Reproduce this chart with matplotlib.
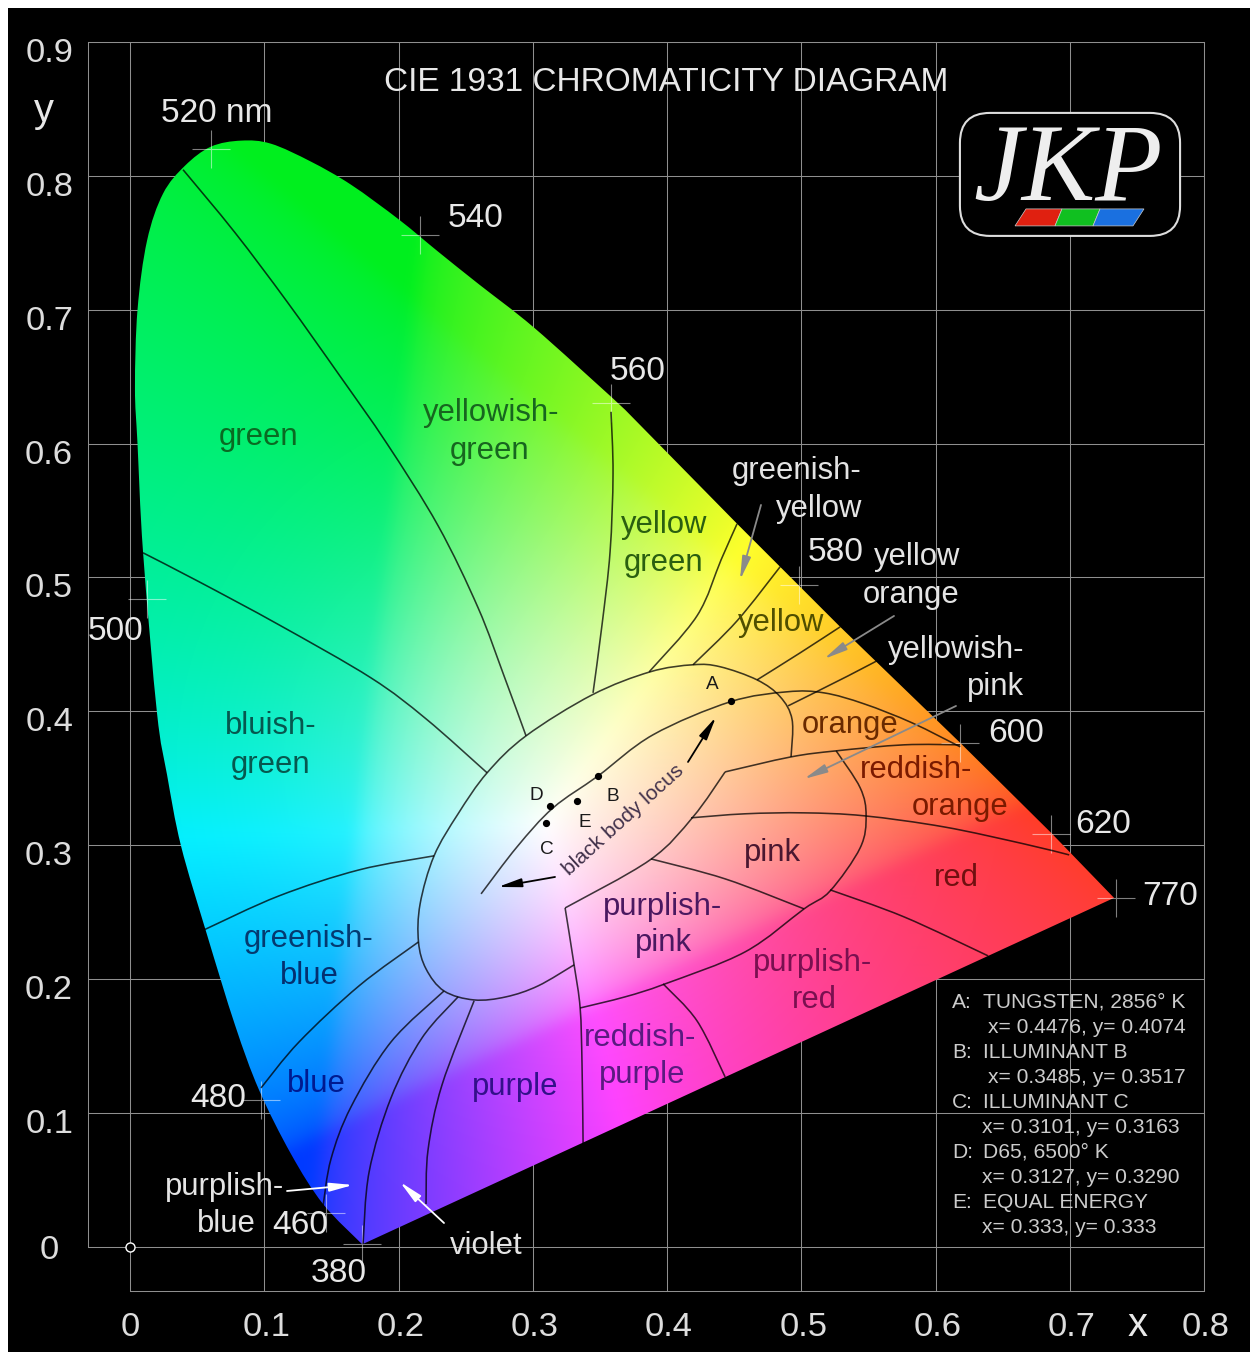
import numpy as np
import matplotlib
matplotlib.use("Agg")
import matplotlib.pyplot as plt
from matplotlib.path import Path
from matplotlib.patches import PathPatch, Rectangle, FancyBboxPatch, Polygon
from matplotlib.transforms import ScaledTranslation

plt.rcParams['font.family'] = ['Liberation Sans', 'DejaVu Sans']
W, H = 1250, 1352

# ---- data: spectral locus (CIE x, y) ----
locus_x = [.173,.1438,.1199,.0961,.0782,.0574,.0380,.0276,.0201,.0097,.0056,.0037,.0056,.0127,.0246,.0410,.0603,.0827,.1050,.1348,.1646,.2004,.2295,.2593,.3010,.3583]
locus_y = [.002,.0321,.0695,.1173,.1658,.2331,.2995,.3526,.3989,.5192,.5998,.6417,.6999,.7515,.7866,.8075,.8217,.8262,.8239,.8105,.7933,.7672,.7433,.7194,.6865,.6350]
red_edge_x = [.3688,.4522,.5290,.6184,.6861,.7330]
red_edge_y = [.6252,.5401,.4631,.3765,.3093,.2607]

wave_labels = ['520','540','560','580','600','620','770','500','480','460','380']
wave_x = [.0603,.2161,.3583,.4984,.6184,.6861,.7346,.0127,.0976,.1460,.173]
wave_y = [.8202,.7560,.6305,.4945,.3765,.3085,.2607,.4841,.1098,.0254,.002]

# illuminants from the legend
ill_names = ['A','B','C','D','E']
ill_x = [.4476,.3485,.3101,.3127,.333]
ill_y = [.4074,.3517,.3163,.3290,.333]

# region boundaries
b_green_yg = [(.0395,.8045),(.0782,.7575),(.1170,.7059),(.1557,.6514),(.1915,.5998),(.2295,.5386),(.2593,.4773),(.2786,.4265),(.2950,.3817)]
b_green_bg = [(.0097,.5184),(.0514,.4968),(.1110,.4646),(.1795,.4250),(.2205,.3944),(.2660,.3541)]
b_bg_gb = [(.0551,.2368),(.1110,.2622),(.1706,.2816),(.2265,.2921)]
b_gb_blue = [(.0976,.1188),(.1259,.1531),(.1706,.1950),(.2149,.2278)]
b_blue_pb = [(.1438,.0306),(.1497,.0657),(.1646,.1046),(.1944,.1531),(.2339,.1912)]
b_pb_violet = [(.1736,.0022),(.1781,.0560),(.1944,.1113),(.2175,.1561),(.2444,.1868)]
b_violet_purple = [(.2205,.0321),(.2220,.0725),(.2324,.1210),(.2563,.1838)]
b_purple_rp = [(.3375,.0769),(.3367,.1367),(.3353,.1785),(.3308,.2107),(.3241,.2532)]
b_inner_low = [(.3241,.2532),(.3874,.2891),(.4194,.3212),(.4433,.3548)]
b_inner_top = [(.4433,.3548),(.4924,.3660),(.5260,.3705),(.5766,.3750),(.6184,.3750)]
b_oval = [(.3308,.2107),(.3040,.1950),(.2801,.1868),(.2563,.1845),(.2339,.1912),(.2205,.2077),(.2149,.2278),(.2161,.2562),(.2265,.2921),(.2444,.3235),(.2660,.3541),(.2950,.3817),(.3442,.4123),(.3874,.4295),(.4194,.4348),(.4396,.4333),(.4671,.4235),(.4843,.4109),(.4932,.3937),(.4924,.3660)]
b_blackbody = [(.2615,.2637),(.2883,.2988),(.3151,.3279),(.3487,.3518),(.3896,.3825),(.4470,.4071),(.4895,.4146),(.5170,.4138),(.5468,.4056),(.5826,.3914),(.6184,.3735)]
b_yg_line = [(.3583,.6237),(.3598,.5774),(.3576,.5192),(.3516,.4646),(.3449,.4138)]
b_yg_gy = [(.3867,.4295),(.4224,.4714),(.4403,.5132),(.4522,.5401)]
b_gy_y = [(.4194,.4348),(.4522,.4676),(.4843,.5080)]
b_y_yo = [(.4671,.4235),(.4992,.4437),(.5290,.4631)]
b_yo_yp = [(.4902,.4041),(.5349,.4265),(.5647,.4422)]
b_pink_arc = [(.5260,.3705),(.5439,.3429),(.5483,.3220),(.5439,.2981),(.5215,.2659),(.5021,.2525),(.4582,.2204),(.3986,.1965),(.3688,.1868),(.3353,.1785)]
b_pink_top = [(.4179,.3205),(.4582,.3235),(.5021,.3242),(.5468,.3220),(.6064,.3137),(.6660,.3010),(.6996,.2928)]
b_pink_pp = [(.3881,.2898),(.4433,.2749),(.5021,.2525)]
b_pr_red = [(.5215,.2667),(.5766,.2465),(.6392,.2174)]
b_rp_pr = [(.3971,.1965),(.4224,.1688),(.4433,.1270)]
boundaries = [b_green_yg,b_green_bg,b_bg_gb,b_gb_blue,b_blue_pb,b_pb_violet,b_violet_purple,b_purple_rp,
              b_inner_low,b_inner_top,b_oval,b_blackbody,b_yg_line,b_yg_gy,b_gy_y,b_y_yo,b_yo_yp,
              b_pink_arc,b_pink_top,b_pink_pp,b_pr_red,b_rp_pr]

x_ticks = [0,.1,.2,.3,.4,.5,.6,.7,.8]
y_ticks = [0,.1,.2,.3,.4,.5,.6,.7,.8,.9]
x_ticklabels = ['0','0.1','0.2','0.3','0.4','0.5','0.6','0.7','0.8']
y_ticklabels = ['0','0.1','0.2','0.3','0.4','0.5','0.6','0.7','0.8','0.9']

# ---- layout helpers ----
fig = plt.figure(figsize=(W/100, H/100), dpi=100, facecolor='white')
fig.add_artist(Rectangle((8/W, 0), 1-8/W, 1-8/H, transform=fig.transFigure, fc='black', ec='none', zorder=-10))

def fx(p): return p/W
def fy(p): return 1-p/H
L, R, T, B = 88, 1204, 41.8, 1291
ax = fig.add_axes([fx(L), fy(B), (R-L)/W, (B-T)/H], facecolor='none')

GRID = '#8f8f8f'
ax.set_xticks(x_ticks, x_ticklabels)
ax.set_yticks(y_ticks, y_ticklabels)
ax.grid(True, color=GRID, lw=0.75, zorder=0)
ax.set_axisbelow(True)
ax.tick_params(length=0, labelsize=34.5*.72, labelcolor='#dddddd', pad=15)
ax.tick_params(axis='y', pad=28)
for t in ax.get_yticklabels():
    t.set_ha('center')
    dyp = 0 if t.get_text() == '0' else -8
    t.set_transform(t.get_transform()+ScaledTranslation(0, dyp/100, fig.dpi_scale_trans))
for t in ax.get_xticklabels():
    dxp = 0 if t.get_text() == '0' else 2
    t.set_transform(t.get_transform()+ScaledTranslation(dxp/100, 0, fig.dpi_scale_trans))
for s in ax.spines.values():
    s.set_color(GRID); s.set_linewidth(.75)
ax.spines['left'].set_bounds(0, .9)
ax.spines['bottom'].set_bounds(0, .8)

def smooth_verts(pts):
    """Catmull-Rom segments as Bezier control points through the read points."""
    p = [np.array(q, float) for q in pts]
    verts, codes = [p[0]], [Path.MOVETO]
    for i in range(len(p)-1):
        p0 = p[i-1] if i > 0 else p[i]
        p3 = p[i+2] if i+2 < len(p) else p[i+1]
        verts += [p[i]+(p[i+1]-p0)/6, p[i+1]-(p3-p[i])/6, p[i+1]]
        codes += [Path.CURVE4]*3
    return verts, codes

# ---- colour field ----
def box(a, k, axis):
    pad = [(0, 0)]*a.ndim
    pad[axis] = (k//2+1, k//2)
    s = np.cumsum(np.pad(a, pad, mode='edge'), axis=axis)
    return np.take(s, range(k, s.shape[axis]), axis=axis)-np.take(s, range(0, s.shape[axis]-k), axis=axis)

prim = np.array([[.67,.21,.14],[.33,.71,.08],[0,0,0]])
prim[2] = 1-prim[0]-prim[1]
white = np.array([.31,.316,.374])
scale = np.linalg.solve(prim, white/white[1])
Minv = np.linalg.inv(prim*scale)
ext = (-.05,.8,-.05,.9)
gx, gy = np.meshgrid(np.linspace(ext[0],ext[1],850), np.linspace(ext[2],ext[3],950))
xyz = np.stack([gx, gy, 1-gx-gy], -1)
rgb = np.clip(xyz @ Minv.T, 0, None)
rgb = rgb/np.maximum(rgb.max(-1, keepdims=True), 1e-6)
rgb = rgb**np.array([.56,.5,.62])
floor = np.array([0,.24,.12])
rgb = floor+(1-floor)*rgb
rgb[...,1] *= 1-.06*(1-rgb[...,0])
pale = .38*np.exp(-((gx-.31)**2+(gy-.36)**2)/.16**2)[...,None]
rgb = rgb+(1-rgb)*pale
for _ in range(2):
    rgb = box(box(rgb, 11, 0), 11, 1)/121
im = ax.imshow(rgb, origin='lower', extent=ext, aspect='auto', interpolation='bilinear', zorder=1)
ax.set_xlim((L-130)/1342.5, .8)
ax.set_ylim((1247-B)/1339, .9)

v, c = smooth_verts(list(zip(locus_x, locus_y)))
v = v+[np.array(q) for q in zip(red_edge_x, red_edge_y)]+[v[0], v[0]]
c = c+[Path.LINETO]*len(red_edge_x)+[Path.LINETO, Path.CLOSEPOLY]
gamut = PathPatch(Path(v, c), transform=ax.transData, fc='none', ec='none')
ax.add_patch(gamut)
im.set_clip_path(gamut)

for b in boundaries:
    v, c = smooth_verts(b)
    ax.add_patch(PathPatch(Path(v, c), fc='none', ec=(0,0,0,.75), lw=1.15, zorder=3))

ax.plot(wave_x, wave_y, ls='none', marker='+', ms=27, mew=.8, color='white', alpha=.5, zorder=2, clip_on=False)
ax.plot(ill_x, ill_y, ls='none', marker='o', ms=4.2, color='black', zorder=4)
ax.plot([0],[0], ls='none', marker='o', ms=6.5, mfc='black', mec='white', mew=1, zorder=4, clip_on=False)

# black panels that interrupt the grid
def dx(p): return (p-130)/1342.5
def dy(p): return (1247-p)/1339
ax.add_patch(Rectangle((dx(938),dy(1238)), dx(1197)-dx(938), dy(982)-dy(1238), fc='black', ec='none', zorder=.5))
ax.add_patch(Rectangle((dx(380),dy(103)), dx(952)-dx(380), dy(64)-dy(103), fc='black', ec='none', zorder=.5))

# ---- text ----
def label(s, px, py, size=30.5, color='#e8e8e8', ha='center', **kw):
    fig.text(fx(px), fy(py+1.5), s, fontsize=size*.72, color=color, ha=ha, va='center', zorder=6, **kw)

label('CIE 1931 CHROMATICITY DIAGRAM', 666.5, 81, size=33.4)
label('y', 44, 110, size=40)
label('x', 1138, 1324, size=40)

for s, px, py in [('520 nm',217,112),('540',476,217),('560',638,370),('580',836,551),('600',1016,732),
                  ('620',1103,823),('770',1170,895),('500',115,630),('480',218,1097),('460',300,1224),('380',339,1272)]:
    label(s, px, py, size=33.5)

white_labels = [('greenish-',797,470),('yellow',819,507),('yellow',917,555),('orange',911,593),('yellowish-',956,648),
                ('pink',995,685),('purplish-',225,1185),('blue',226,1222),('violet',486,1244)]
for s, px, py in white_labels:
    label(s, px, py, color='#e4e4e4', size=31)

dark_labels = [('green',259,436,'#0a6a22'),('yellowish-',491,412,'#17661f'),('green',490,450,'#17661f'),
               ('yellow',664,524,'#2a5f10'),('green',664,562,'#2a5f10'),('yellow',781,622,'#4f4f00'),
               ('orange',850,723,'#6a2a00'),('reddish-',916,769,'#7a1a00'),('orange',960,806,'#7a1a00'),
               ('pink',772,851,'#4a1730'),('red',956,877,'#701010'),('purplish-',663,905,'#4a1860'),
               ('pink',663,941,'#4a1860'),('purplish-',813,961,'#7a1050'),('red',814,998,'#7a1050'),
               ('reddish-',640,1037,'#5a1a80'),('purple',642,1074,'#5a1a80'),('purple',515,1085,'#33108a'),
               ('bluish-',271,725,'#06584f'),('green',271,763,'#06584f'),('greenish-',309,937,'#043a70'),
               ('blue',309,974,'#043070'),('blue',316,1082,'#001a90')]
for s, px, py, col in dark_labels:
    label(s, px, py, color=col, size=31)

for s, px, py in [('A',712,683),('B',613,795),('C',547,848),('D',536,794),('E',585,821)]:
    label(s, px, py, size=19, color='#1a1a1a')
fig.text(fx(623), fy(820), 'black body locus', fontsize=21*.72, color='#40304a', rotation=42,
         ha='center', va='center', rotation_mode='anchor', zorder=6)

legend_rows = [('A:',1001,'TUNGSTEN, 2856° K',983),('',1026,'x= 0.4476, y= 0.4074',988),
               ('B:',1051,'ILLUMINANT B',983),('',1076,'x= 0.3485, y= 0.3517',988),
               ('C:',1101,'ILLUMINANT C',983),('',1126,'x= 0.3101, y= 0.3163',982),
               ('D:',1151,'D65, 6500° K',983),('',1176,'x= 0.3127, y= 0.3290',982),
               ('E:',1201,'EQUAL ENERGY',983),('',1226,'x= 0.333, y= 0.333',982)]
for tag, py, s, px in legend_rows:
    if tag:
        label(tag, 952, py, size=21, color='#cccccc', ha='left')
    label(s, px, py, size=21, color='#cccccc', ha='left')

# ---- arrows ----
def arrow(p0, p1, col, lw=1.3, head=14):
    ax.annotate('', xy=(dx(p1[0]),dy(p1[1])), xytext=(dx(p0[0]),dy(p0[1])), zorder=5, annotation_clip=False,
                arrowprops=dict(arrowstyle='-|>,head_length=%.2f,head_width=.26' % (head/10), color=col, lw=lw, shrinkA=0, shrinkB=0))
arrow((555,877),(498,887),'black')
arrow((688,762),(716,717),'black')
arrow((761,505),(740,580),'#8a8a8a')
arrow((894,616),(824,659),'#8a8a8a')
arrow((956,706),(804,779),'#8a8a8a')
arrow((287,1191),(353,1185),'white')
arrow((444,1223),(400,1182),'white')

# ---- logo ----
ax.add_patch(FancyBboxPatch((dx(990),dy(206)), dx(1150)-dx(990), dy(143)-dy(206),
             boxstyle='round,pad=%.4f,rounding_size=%.4f' % (30/1342, 30/1342), fc='black', ec='#dddddd', lw=1.5, zorder=.6))
fig.text(fx(1068), fy(200), 'JKP', fontsize=110*.72, family='Liberation Serif', style='italic',
         color='#eeeeee', zorder=6, ha='center', va='baseline')
def bar(x0b, x1b, x0t, x1t, col):
    ax.add_patch(Polygon([(dx(x0b),dy(226)),(dx(x1b),dy(226)),(dx(x1t),dy(209)),(dx(x0t),dy(209))], fc=col, ec='#cccccc', lw=.5, zorder=7))
bar(1015,1055,1026,1062,'#e02010')
bar(1055,1093,1062,1100,'#10c020')
bar(1093,1133,1100,1144,'#1a70e0')

fig.savefig('out.png', dpi=100, facecolor=fig.get_facecolor())
